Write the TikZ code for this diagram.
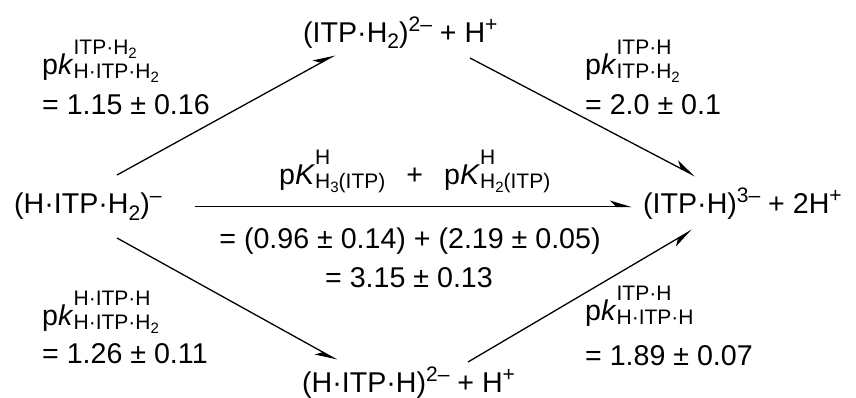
\documentclass[tikz,border=0pt]{standalone}
\usepackage{fontspec}
\setmainfont{Liberation Sans}
\usetikzlibrary{arrows.meta}
% type sizes
\newcommand\mainsz{\fontsize{28.6}{32}\selectfont}
\newcommand\scsz{\fontsize{21}{22}\selectfont}
\newcommand\sscsz{\fontsize{15}{16}\selectfont}
% sub- and superscripts in text
\newcommand\dn[1]{\raisebox{-6pt}{\scsz #1}}
\newcommand\up[1]{\raisebox{11pt}{\scsz #1}}
\newcommand\dnn[1]{\raisebox{-4pt}{\sscsz #1}}
% p k with stacked super- and subscript
\newcommand\pk[3]{p\textit{#1}\rlap{\raisebox{20pt}{\scsz #2}}\raisebox{-4pt}{\scsz #3}}
\begin{document}
\begin{tikzpicture}[x=1pt,y=-1pt,
  every node/.style={inner sep=0pt, font=\mainsz},
  arr/.style={line width=1.3pt, -{Stealth[harpoon, length=20pt, width=12pt, inset=6pt]}},
  arrs/.style={line width=1.3pt, -{Stealth[harpoon, swap, length=20pt, width=12pt, inset=6pt]}}]
\useasboundingbox (0,0) rectangle (856,398);

% species
\node[anchor=base west] (left) at (14,214) {(H·ITP·H\dn{2})\up{–}};
\node[anchor=base west] (right) at (643,214) {(ITP·H)\up{3–} + 2H\up{+}};
\node[anchor=base west] (top) at (303,43) {(ITP·H\dn{2})\up{2–} + H\up{+}};
\node[anchor=base west] (bot) at (302,392) {(H·ITP·H)\up{2–} + H\up{+}};

% reaction arrows
\draw[arr] ([shift={(103,-39)}]left.base west) -- ([shift={(32,12)}]top.base west);
\draw[arr] ([shift={(167,15)}]top.base west) -- ([shift={(52,-38)}]right.base west);
\draw[arrs] ([shift={(103,24)}]left.base west) -- ([shift={(35,-32)}]bot.base west);
\draw[arrs] ([shift={(166,-30)}]bot.base west) -- ([shift={(49,16)}]right.base west);
\draw[arr] ([shift={(181,-7.5)}]left.base west) -- ([shift={(-11,-7.5)}]right.base west);

% constants
\node[anchor=base west] (ktl) at (42,75) {\pk{k}{ITP·H\dnn{2}}{H·ITP·H\dnn{2}}};
\node[anchor=base west] (vtl) at (42,115) {= 1.15 ± 0.16};
\node[anchor=base west] (ktr) at (585,75) {\pk{k}{ITP·H}{ITP·H\dnn{2}}};
\node[anchor=base west] (vtr) at (585,115) {= 2.0 ± 0.1};
\node[anchor=base west] (kbl) at (42,325) {\pk{k}{H·ITP·H}{H·ITP·H\dnn{2}}};
\node[anchor=base west] (vbl) at (42,363) {= 1.26 ± 0.11};
\node[anchor=base west] (kbr) at (585,320) {\pk{k}{ITP·H}{H·ITP·H}};
\node[anchor=base west] (vbr) at (585,365) {= 1.89 ± 0.07};

\node[anchor=base west] (kc) at (279,185) {\pk{K}{H}{H\dnn{3}(ITP)}\hspace{21pt}+\hspace{21pt}\pk{K}{H}{H\dnn{2}(ITP)}};
\node[anchor=base] (vc1) at (410,248) {= (0.96 ± 0.14) + (2.19 ± 0.05)};
\node[anchor=base] (vc2) at (409,287) {= 3.15 ± 0.13};
\end{tikzpicture}
\end{document}
